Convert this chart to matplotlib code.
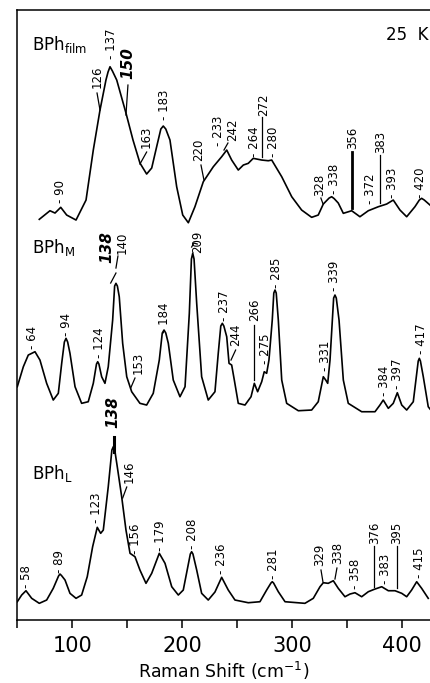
import matplotlib.pyplot as plt
import matplotlib.ticker as ticker

plt.rcParams['font.family'] = 'DejaVu Sans'
plt.rcParams['mathtext.default'] = 'regular'

# Raman spectra at 25 K (shift in cm-1, intensity above each trace's baseline)
film_shift = [70.0, 79.7, 84.3, 89.5, 94.9, 103.4, 112.5, 119.1, 125.2, 130.6, 132.5, 134.3,
              136.5, 140.4, 148.8, 155.2, 161.5, 167.6, 172.2, 176.7, 180.5, 182.7, 185.0,
              188.8, 194.9, 200.4, 205.5, 211.5, 219.1, 228.2, 235.8, 240.4, 244.9, 250.9,
              255.5, 260.0, 264.5, 272.2, 278.2, 281.3, 290.4, 299.5, 308.5, 317.6, 323.6,
              328.2, 333.5, 335.8, 338.0, 341.8, 346.4, 354.0, 361.5, 369.1, 378.2, 385.8,
              391.8, 397.9, 404.0, 411.5, 415.5, 417.6, 420.0, 425.2]
film_int = [4.7, 13.3, 11, 16.7, 9, 4, 24, 74, 114, 144, 152, 157.3,
            153, 144, 111, 84, 61, 50, 56, 77.3, 95, 98, 95,
            84, 37.3, 9, 1.3, 17.3, 42.3, 57.3, 67.3, 74, 64, 54,
            59, 60.7, 65.7, 64, 63.3, 64, 47.3, 27.3, 14, 6.7, 9,
            20, 26, 27.3, 25.5, 21, 10.7, 13.3, 7.3, 13.3, 17.3, 20,
            24, 14, 7.3, 17.3, 24, 25.7, 24, 19]

m_shift = [50.0, 55.5, 60.0, 66.1, 70.6, 76.7, 82.7, 87.3, 90.4, 92.8, 94.3, 95.8, 97.9,
           102.5, 108.5, 114.5, 119.1, 122.0, 123.1, 124.2, 126.7, 129.7, 132.7, 136.7,
           138.5, 139.7, 141.0, 142.7, 145.8, 149.5, 154.0, 161.5, 167.6, 173.6, 179.1,
           181.8, 183.4, 185.0, 187.3, 191.8, 197.9, 202.5, 206.4, 208.3, 209.5, 210.7,
           213.1, 217.6, 223.6, 229.7, 232.7, 235.0, 236.4, 237.8, 240.4, 242.5, 244.9,
           247.3, 250.9, 257.0, 262.5, 265.5, 268.5, 272.2, 274.5, 276.7, 278.8, 281.8,
           283.2, 284.3, 285.4, 287.3, 290.4, 294.9, 305.5, 317.6, 323.6, 328.2, 330.4,
           332.2, 334.3, 337.6, 338.8, 340.0, 342.5, 346.4, 350.9, 363.1, 375.2, 379.7,
           382.7, 387.3, 391.8, 395.5, 399.5, 404.0, 410.0, 414.5, 415.5, 416.5, 419.1,
           423.6, 425.2]
m_int = [25.3, 45.3, 57, 60.3, 52, 28.7, 12, 18.7, 49, 70, 73.7, 70, 58.7,
         25.3, 8.7, 10.3, 28.7, 48, 50.3, 48, 35.3, 28.7, 45.3, 92,
         126, 128.7, 126, 115.3, 68.7, 35.3, 20.3, 8.7, 7, 18.7, 52,
         79, 82, 79, 68.7, 32, 15.3, 25.3, 98.7, 153, 158.7, 153,
         108.7, 35.3, 12, 20.3, 58.7, 86, 88.7, 86, 75.3, 48.7, 47,
         32, 8.7, 7, 15.3, 28.7, 20.3, 30.3, 40.3, 38.7, 52, 92,
         119, 122, 119, 92, 32, 8.7, 1.3, 2, 10.3, 35.3, 32,
         28.7, 52, 114, 117, 114, 92, 32, 8.7, 0.3, 0.3, 7,
         12, 3.7, 8.7, 19.3, 7, 2, 10.3, 51, 53.7, 51, 35.3,
         5.3, 3]

l_shift = [50.0, 54.0, 57.9, 63.1, 70.0, 76.7, 82.7, 87.5, 88.8, 90.2, 93.4, 97.9, 103.4,
           108.5, 113.6, 118.5, 122.7, 125.8, 128.2, 132.7, 136.0, 137.3, 138.6, 140.9,
           144.9, 148.8, 152.5, 157.0, 161.5, 167.0, 172.2, 179.1, 184.3, 190.4, 196.4,
           200.9, 207.3, 208.5, 209.7, 213.1, 217.6, 223.6, 229.7, 235.8, 241.8, 247.9,
           260.0, 270.6, 276.7, 280.6, 281.8, 283.0, 287.3, 293.4, 311.5, 319.1, 325.2,
           328.2, 332.7, 337.3, 341.8, 347.9, 352.5, 357.0, 363.1, 369.1, 374.5, 381.3,
           387.3, 393.4, 399.5, 404.0, 408.5, 413.1, 417.6, 423.6]
l_int = [2.3, 9, 13.3, 5.7, 0.7, 4, 15.7, 28, 30, 28.5, 24, 10.7, 5.7,
         9, 27.3, 57.3, 76.7, 70.7, 74, 117.3, 154, 157.3, 154, 137.3,
         107.3, 74, 50.7, 47.3, 34, 20.7, 30.7, 50.7, 40.7, 17.3, 9,
         14, 50, 52.3, 50, 34, 10.7, 4, 12, 26.7, 14, 4,
         1.3, 2.3, 14, 21, 22.3, 21, 12.3, 2.3, 0.7, 5.7, 17.3,
         21.3, 20.7, 23.3, 15.7, 7.3, 10, 11.3, 7.3, 12.3, 14.7, 17.3,
         13.3, 13.3, 10.7, 7.3, 14, 22.3, 15.7, 5.7]

# peak labels
film_peaks = ['90', '126', '137', '150', '163', '183', '220', '233', '242', '264', '272',
              '280', '328', '338', '356', '372', '383', '393', '420']
m_peaks = ['64', '94', '124', '138', '140', '153', '184', '209', '237', '244', '266',
           '275', '285', '331', '339', '384', '397', '417']
l_peaks = ['58', '89', '123', '138', '146', '156', '179', '208', '236', '281', '329',
           '338', '358', '376', '383', '395', '415']

# layout of the labels (x, bottom y, tick dash in front)
film_lab = [(89.7, 417, 1), (122.5, 532, 0), (136.1, 561, 1), (150.6, 541, 0), (167.6, 472, 0),
            (183.4, 500, 1), (215.2, 459, 0), (232.5, 474, 1), (246.1, 479, 0), (265.2, 463, 1),
            (274.3, 504, 0), (282.9, 463, 1), (324.7, 424, 0), (338.2, 426, 1), (355.2, 471, 0),
            (371.5, 416, 1), (380.6, 467, 0), (391.5, 422, 1), (417.0, 422, 1)]
m_lab = [(63.4, 271, 1), (94.3, 284, 1), (124.3, 262, 1), (131.5, 357, 0), (145.2, 366, 0),
         (159.7, 246, 0), (183.4, 287, 1), (214.3, 367, 0), (238.8, 299, 1), (248.8, 274, 0),
         (266.1, 299, 0), (276.1, 256, 1), (285.2, 332, 1), (330.6, 249, 1), (338.8, 329, 1),
         (383.4, 224, 1), (396.1, 231, 1), (417.9, 266, 1)]
l_lab = [(58.5, 32, 1), (88.8, 47, 1), (122.2, 97, 1), (137.0, 192, 0), (151.5, 137, 0),
         (157.9, 66, 1), (180.6, 69, 1), (209.7, 71, 1), (235.8, 46, 1), (282.5, 41, 1),
         (325.2, 54, 0), (341.5, 56, 0), (357.9, 31, 1), (375.2, 76, 0), (384.3, 36, 1),
         (395.2, 76, 0), (415.2, 42, 1)]
bold_labels = {('film', '150'), ('m', '138'), ('l', '138')}

# leader lines (x list, y list, width)
leaders = [
    ([122.5, 125.2], [527, 510], 0.9), ([150.6, 148.8], [535, 505], 0.9),
    ([167.6, 161.5], [468, 456], 0.9), ([217.0, 219.7], [455, 440], 0.9),
    ([241.5, 237.9], [477, 470], 0.9), ([272.2, 272.2], [503, 463], 0.9),
    ([326.0, 328.0], [422, 416], 0.9), ([354.0, 354.0], [468, 412], 2.0),
    ([379.5, 379.5], [465, 417], 0.9),
    ([134.9, 139.7], [337, 347], 0.9), ([141.5, 139.7], [364, 352], 0.9),
    ([157.0, 153.1], [242, 232], 0.9), ([208.5, 210.6, 213.6], [373, 377, 376], 0.9),
    ([248.5, 244.3], [270, 260], 0.9), ([265.2, 265.2], [295, 240], 0.9),
    ([137.9, 137.9], [183, 168], 2.2), ([149.5, 145.8], [133, 122], 0.9),
    ([326.1, 327.9], [50, 38], 0.9), ([340.6, 338.8], [52, 41], 0.9),
    ([374.5, 374.5], [74, 33], 0.9), ([395.2, 395.2], [74, 32], 0.9),
]

offsets = {'film': 396, 'm': 208, 'l': 16}

fig = plt.figure(figsize=(4.30, 6.83), dpi=100)
ax = fig.add_axes([0.0402, 0.0922, 0.9598, 0.8931])

for key, xs, ys in [('film', film_shift, film_int), ('m', m_shift, m_int), ('l', l_shift, l_int)]:
    ax.plot(xs, [v + offsets[key] for v in ys], color='black', lw=1.2)

for key, peaks, labs in [('film', film_peaks, film_lab), ('m', m_peaks, m_lab), ('l', l_peaks, l_lab)]:
    for txt, (x, y, dash) in zip(peaks, labs):
        if (key, txt) in bold_labels:
            ax.text(x, y, txt, rotation=90, ha='center', va='bottom', fontsize=11,
                    fontweight='bold', fontstyle='italic')
        else:
            s = '- ' + txt if dash else txt
            ax.text(x, y, s, rotation=90, ha='center', va='bottom', fontsize=8.5)

for xs, ys, w in leaders:
    ax.plot(xs, ys, color='black', lw=w)

ax.text(63.4, 570, r'BPh$_{film}$', fontsize=12, ha='left', va='baseline')
ax.text(63.4, 367, r'BPh$_{M}$', fontsize=12, ha='left', va='baseline')
ax.text(63.4, 141, r'BPh$_{L}$', fontsize=12, ha='left', va='baseline')
ax.text(423.5, 580, '25  K', fontsize=12, ha='right', va='baseline')

ax.set_xlim(50, 425.2)
ax.set_ylim(0, 610)
ax.spines['right'].set_visible(False)
for s in ['left', 'top', 'bottom']:
    ax.spines[s].set_linewidth(1.1)
ax.set_yticks([])
ax.xaxis.set_major_locator(ticker.FixedLocator([100, 200, 300, 400]))
ax.xaxis.set_minor_locator(ticker.FixedLocator([50, 150, 250, 350]))
ax.tick_params(axis='x', which='both', direction='out', length=5.5, width=1.1)
ax.tick_params(axis='x', which='major', labelsize=15, pad=6)
ax.set_xlabel(r'Raman Shift (cm$^{-1}$)', fontsize=12.5, labelpad=3)

fig.savefig('out.png', dpi=100)
